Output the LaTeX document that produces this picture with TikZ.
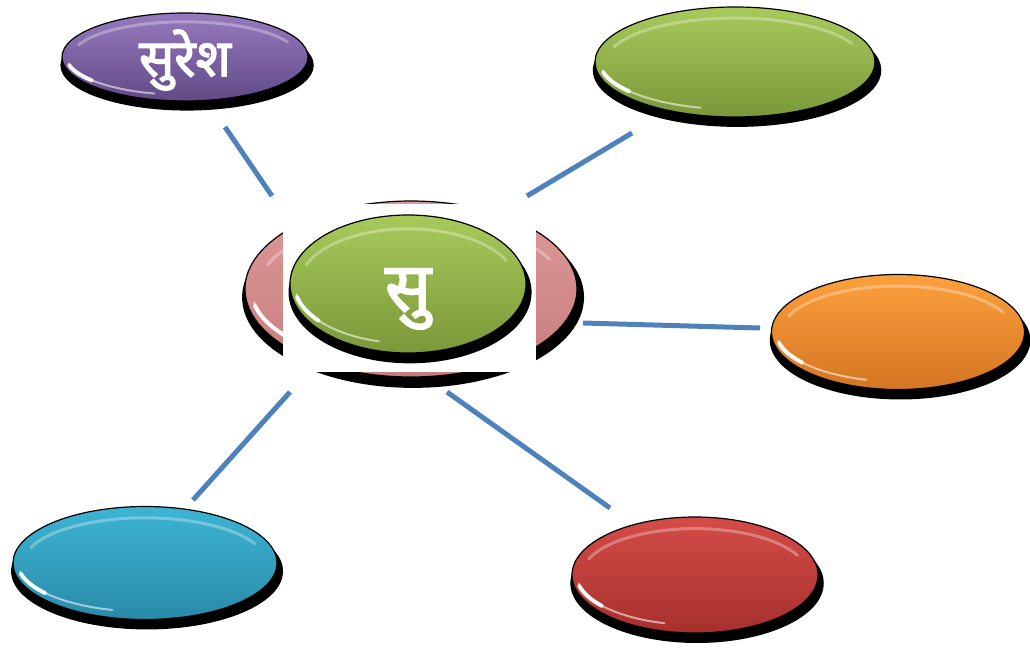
\documentclass[tikz,border=0pt]{standalone}
\usepackage{fontspec}
\newfontfamily\deva[Script=Devanagari, FakeBold=2.5]{Noto Sans}
\usepackage{tikz}
\usetikzlibrary{shapes.geometric, shadows}

\tikzset{
  bubble/.style n args={4}{ellipse, inner sep=0pt, minimum width=#1, minimum height=#2,
    top color=#3, bottom color=#4, draw=black, line width=1.2pt,
    drop shadow={shadow xshift=2pt, shadow yshift=-8pt, shadow scale=1.03, fill=black, opacity=1},
    path picture={
      \draw[white, line width=4pt, opacity=.95, line cap=round]
        ([shift={(193:{0.482*#1} and {0.43*#2})}]path picture bounding box.center)
        arc[start angle=193, end angle=218, x radius={0.482*#1}, y radius={0.43*#2}];
      \draw[white, line width=2pt, opacity=.55, line cap=round]
        ([shift={(190:{0.48*#1} and {0.43*#2})}]path picture bounding box.center)
        arc[start angle=190, end angle=255, x radius={0.48*#1}, y radius={0.43*#2}];
      \draw[white, line width=3pt, opacity=.3, line cap=round]
        ([shift={(25:{0.46*#1} and {0.40*#2})}]path picture bounding box.center)
        arc[start angle=25, end angle=160, x radius={0.46*#1}, y radius={0.40*#2}];
    }},
  wordtext/.style={text=white, font=\deva\fontsize{#1}{#1}\selectfont},
  link/.style={draw=linkblue, line width=5pt},
}

\begin{document}
\begin{tikzpicture}[x=1pt, y=-1pt]

% Define colors
\definecolor{linkblue}{RGB}{79,129,189}
\definecolor{purpletop}{RGB}{150,122,190}
\definecolor{purplebot}{RGB}{98,74,134}
\definecolor{greentop}{RGB}{168,202,92}
\definecolor{greenbot}{RGB}{122,152,56}
\definecolor{orangetop}{RGB}{252,160,62}
\definecolor{orangebot}{RGB}{212,118,34}
\definecolor{cyantop}{RGB}{62,180,212}
\definecolor{cyanbot}{RGB}{40,138,168}
\definecolor{redtop}{RGB}{212,76,72}
\definecolor{redbot}{RGB}{166,48,44}
\definecolor{pinktop}{RGB}{222,154,154}
\definecolor{pinkbot}{RGB}{200,124,124}

\useasboundingbox (0,0) rectangle (1030,648);

% Connector ends
\coordinate (sureshend) at (225,127);
\coordinate (sutop1) at (272,196);
\coordinate (greenend) at (632,133);
\coordinate (sutop2) at (527,196);
\coordinate (orangeend) at (760,328);
\coordinate (suright) at (583,323);
\coordinate (cyanend) at (193,500);
\coordinate (subot1) at (290,392);
\coordinate (redend) at (610,508);
\coordinate (subot2) at (447,392);

% Connectors
\draw[link] (sureshend) -- (sutop1);
\draw[link] (greenend) -- (sutop2);
\draw[link] (suright) -- (orangeend);
\draw[link] (subot1) -- (cyanend);
\draw[link] (subot2) -- (redend);

% Outer bubbles
\node[bubble={246pt}{88pt}{purpletop}{purplebot}] (suresh) at (185,57) {};
\node[wordtext=52, yshift=-3pt] (sureshtext) at (suresh.center) {सुरेश};

\node[bubble={280pt}{110pt}{greentop}{greenbot}] (green) at (735,62) {};
\node[bubble={253pt}{115pt}{orangetop}{orangebot}] (orange) at (898,332) {};
\node[bubble={264pt}{113pt}{cyantop}{cyanbot}] (cyan) at (145,563) {};
\node[bubble={246pt}{116pt}{redtop}{redbot}] (red) at (695,575) {};

% Central bubble
\node[bubble={332pt}{176pt}{pinktop}{pinkbot}] (ring) at (411,289) {};
\node[fill=white, inner sep=0pt, minimum width=253pt, minimum height=168pt] (box) at (409.5,288) {};
\node[bubble={236pt}{138pt}{greentop}{greenbot}] (su) at (408,284) {};
\node[wordtext=68, yshift=-15pt] (sutext) at (su.center) {सु};

\end{tikzpicture}
\end{document}
